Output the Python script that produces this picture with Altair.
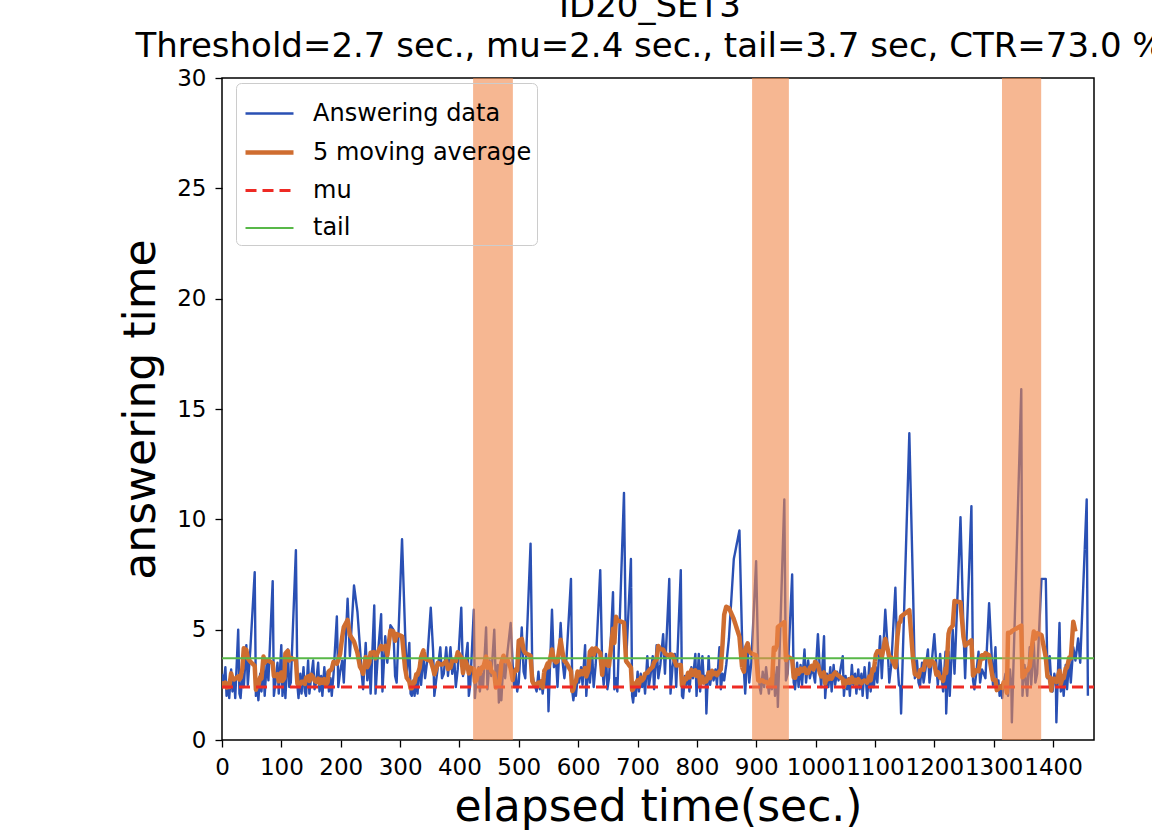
import altair as alt
import pandas as pd

# ---------------- data ----------------
answer_times = [
    # 0-100 s
    3.0, 2.4, 3.3, 2.0, 2.6, 1.9, 3.2, 2.2, 2.8, 1.9, 5.0, 2.1, 1.9, 3.0, 2.4, 4.3, 2.5, 4.0, 7.6, 2.0,
    2.4, 1.8, 3.0, 2.2, 3.4, 2.0, 3.6, 2.7, 7.2, 2.0, 2.6, 3.5, 2.1, 4.3,
    # 100-200 s
    2.0, 3.0, 1.9, 4.1, 2.4, 2.6, 8.6, 2.5, 1.9, 3.0, 2.1, 3.3, 2.2, 2.0, 3.6, 2.1, 2.8, 3.6, 2.3, 2.6,
    3.5, 2.2, 2.9, 2.0, 3.3, 2.4, 3.1, 2.2, 2.8, 2.0, 3.0, 5.6, 2.4, 3.1,
    # 200-320 s
    3.6, 2.6, 6.4, 3.8, 7.0, 5.8, 4.2, 3.0, 2.3, 4.4, 2.7, 3.5, 2.1, 6.1, 2.1, 3.8, 5.7, 2.2, 4.7, 3.5,
    5.2, 5.0, 2.9, 2.6, 9.1, 5.0, 2.9, 4.4, 2.1, 2.0,
    # 320-426 s
    2.7, 2.0, 2.9, 2.1, 3.5, 2.5, 3.9, 2.8, 3.6, 6.0, 4.0, 2.0, 2.6, 3.3, 4.2, 2.8, 3.0, 4.2, 2.9, 4.2,
    3.0, 3.6, 2.4, 3.2, 6.0, 2.9, 3.4, 4.4, 2.0, 2.5, 5.9, 1.9,
    # 426-495 s
    2.8, 3.3, 2.2, 3.0, 2.4, 5.1, 2.3, 3.6, 2.9, 5.0, 2.6, 3.4, 1.7, 2.4, 1.8, 3.6, 2.8, 4.0, 5.3, 3.4,
    2.4, 3.0,
    # 495-600 s
    2.2, 2.6, 5.1, 3.1, 2.8, 8.9, 3.0, 2.6, 2.4, 2.2, 3.1, 2.3, 2.7, 2.1, 2.8, 2.4, 3.3, 1.3, 5.9, 3.3,
    3.6, 2.4, 5.3, 3.5, 2.8, 3.8, 7.3, 2.2, 1.8, 2.3, 2.0, 2.8,
    # 600-700 s
    2.6, 3.3, 2.5, 4.3, 2.0, 3.5, 2.6, 3.9, 2.4, 3.4, 7.7, 3.3, 2.5, 3.9, 2.3, 2.8, 6.7, 2.3, 2.8, 2.2,
    11.2, 3.5, 8.2, 2.0, 1.7, 2.5, 2.0,
    # 700-800 s
    3.1, 2.2, 3.0, 2.4, 2.8, 2.1, 3.8, 2.4, 2.9, 3.8, 2.3, 4.3, 2.8, 3.4, 4.8, 3.0, 7.3, 2.1, 3.3, 3.9,
    2.4, 7.7, 2.0, 1.9, 2.9, 2.5, 3.0, 2.2, 3.3, 2.8, 3.9, 2.0,
    # 800-908 s
    3.9, 2.2, 3.8, 2.6, 2.9, 1.2, 3.8, 2.5, 3.1, 2.7, 3.2, 2.5, 4.2, 2.3, 3.0, 2.7, 3.4, 4.6, 8.2, 9.5,
    4.5, 3.1, 2.1, 4.2, 2.6, 3.5, 8.1, 3.5, 2.4, 2.1,
    # 908-996 s
    3.1, 2.4, 3.3, 2.6, 2.1, 2.8, 2.3, 3.2, 2.0, 3.3, 1.5, 10.9, 2.7, 3.0, 7.5, 2.6, 2.3, 3.5, 2.4, 3.4,
    2.5, 4.1, 2.6, 3.6, 2.8, 3.2, 3.0,
    # 996-1098 s
    2.6, 4.8, 3.2, 2.4, 4.7, 1.9, 3.0, 2.4, 3.3, 2.2, 3.4, 2.5, 3.1, 2.7, 3.2, 3.8, 2.0, 2.9, 2.3, 2.8,
    2.0, 3.4, 2.5, 3.0, 2.1, 3.2, 2.3, 3.0, 2.0, 3.3, 2.6, 1.9, 3.5, 2.2, 3.0, 2.4,
    # 1098-1200 s
    3.3, 2.6, 4.7, 2.8, 5.9, 4.1, 2.6, 3.4, 6.9, 3.5, 2.5, 2.4, 1.2, 13.9, 6.5, 2.8, 3.6, 2.6, 2.4, 3.5,
    2.6, 3.2, 4.1, 2.6, 3.4, 4.8,
    # 1200-1347 s
    3.4, 2.5, 3.9, 2.8, 2.2, 4.0, 1.2, 4.0, 2.0, 5.0, 3.0, 10.1, 5.0, 2.8, 10.6, 2.7, 2.3, 3.0, 4.0, 2.6,
    3.2, 3.0, 2.8, 6.2, 4.0, 2.5, 4.2, 2.3, 2.7, 2.0, 2.4, 1.9, 2.6, 3.0, 2.3, 2.0, 3.2, 2.4, 0.8, 15.9,
    # 1347-1459 s
    2.0, 3.4, 2.6, 2.0, 4.2, 2.5, 4.4, 2.6, 3.0, 7.3, 7.3, 2.8, 3.8, 2.6, 2.2, 3.0, 2.6, 0.8, 5.3, 2.2,
    2.8, 2.0, 3.4, 2.3, 3.7, 2.6, 4.2, 3.6, 4.6, 3.5, 10.9, 2.0,
]

band_start = [423, 893, 1314]
band_end = [490, 955, 1380]

MU = 2.4
TAIL = 3.7
X_MAX = 1469
Y_MAX = 30
x_ticks = list(range(0, 1401, 100))
y_ticks = [0, 5, 10, 15, 20, 25, 30]

series_names = ["Answering data", "5 moving average", "mu", "tail"]
series_colors = ["#2a50b4", "#cf6d30", "#ee2a24", "#58b848"]
series_dash = [[1, 0], [1, 0], [11, 6], [1, 0]]
series_width = [2.4, 4.5, 3, 2]

title_lines = ["ID20_SET3", "Threshold=2.7 sec., mu=2.4 sec., tail=3.7 sec, CTR=73.0 %"]

# ---------------- build tables ----------------
elapsed = []
t = 0.0
for i, v in enumerate(answer_times):
    if i > 0:
        t += v
    elapsed.append(round(t, 3))

moving = [sum(answer_times[i:i + 5]) / 5 for i in range(len(answer_times) - 4)]

rows = []
for x, y in zip(elapsed, answer_times):
    rows.append({"series": "Answering data", "t": x, "v": y})
for x, y in zip(elapsed, moving):
    rows.append({"series": "5 moving average", "t": x, "v": y})
for x in (0, X_MAX):
    rows.append({"series": "mu", "t": x, "v": MU})
    rows.append({"series": "tail", "t": x, "v": TAIL})
df = pd.DataFrame(rows)

bands = pd.DataFrame({"start": band_start, "end": band_end})

FONT = "DejaVu Sans"

x_scale = alt.Scale(domain=[0, X_MAX], nice=False, zero=False)
y_scale = alt.Scale(domain=[0, Y_MAX], nice=False)

legend = alt.Legend(
    title=None, orient="none", legendX=14, legendY=5,
    symbolType="stroke", symbolSize=2304, symbolOffset=2,
    labelFontSize=24, labelFont=FONT,
    labelColor="black", labelOffset=17, rowPadding=-13, padding=5,
    strokeColor="#cccccc", fillColor="transparent", cornerRadius=5,
    labelLimit=400,
)

enc = dict(
    x=alt.X("t:Q", scale=x_scale,
            axis=alt.Axis(values=x_ticks, title="elapsed time(sec.)", format="d",
                          labelOverlap=False, labelFlush=False, labelBound=False,
                          labelPadding=9,
                          titleX=436, titleY=80, titleBaseline="alphabetic")),
    y=alt.Y("v:Q", scale=y_scale,
            axis=alt.Axis(values=y_ticks, title="answering time", labelPadding=9,
                          titleX=-59, titleY=331)),
    color=alt.Color("series:N", scale=alt.Scale(domain=series_names, range=series_colors), legend=legend),
    strokeDash=alt.StrokeDash("series:N", scale=alt.Scale(domain=series_names, range=series_dash), legend=legend),
    strokeWidth=alt.StrokeWidth("series:N",
                                scale=alt.Scale(type="ordinal", domain=series_names, range=series_width),
                                legend=legend),
)

base = alt.Chart(df)
layers = []
for name in series_names:
    layers.append(
        base.transform_filter(alt.datum.series == name)
        .mark_line(clip=True, strokeJoin="round")
        .encode(**enc)
    )

band_layer = alt.Chart(bands).mark_rect(color="#f0874a", opacity=0.6, clip=True).encode(
    x=alt.X("start:Q", scale=x_scale),
    x2="end:Q",
    y=alt.Y(datum=0, scale=y_scale),
    y2=alt.Y2(datum=Y_MAX),
)

chart = alt.layer(*layers, band_layer).properties(
    width=872,
    height=662,
    autosize=alt.AutoSizeParams(type="none"),
    padding={"left": 222, "top": 78, "right": 58, "bottom": 90},
    title=alt.TitleParams(text=title_lines, fontSize=34, font=FONT, fontWeight="normal",
                          color="black", anchor="middle", dx=-8, offset=3, lineHeight=40),
).configure(
    background="white"
).configure_view(
    stroke="black", strokeWidth=1.5
).configure_axis(
    labelFont=FONT, labelFontSize=23, labelColor="black",
    tickSize=7, tickColor="black", tickWidth=1.3, domain=False, grid=False,
    titleFont=FONT, titleFontSize=44, titleFontWeight="normal", titleColor="black",
)

chart.save("out.html", embed_options={"renderer": "svg", "actions": False})
